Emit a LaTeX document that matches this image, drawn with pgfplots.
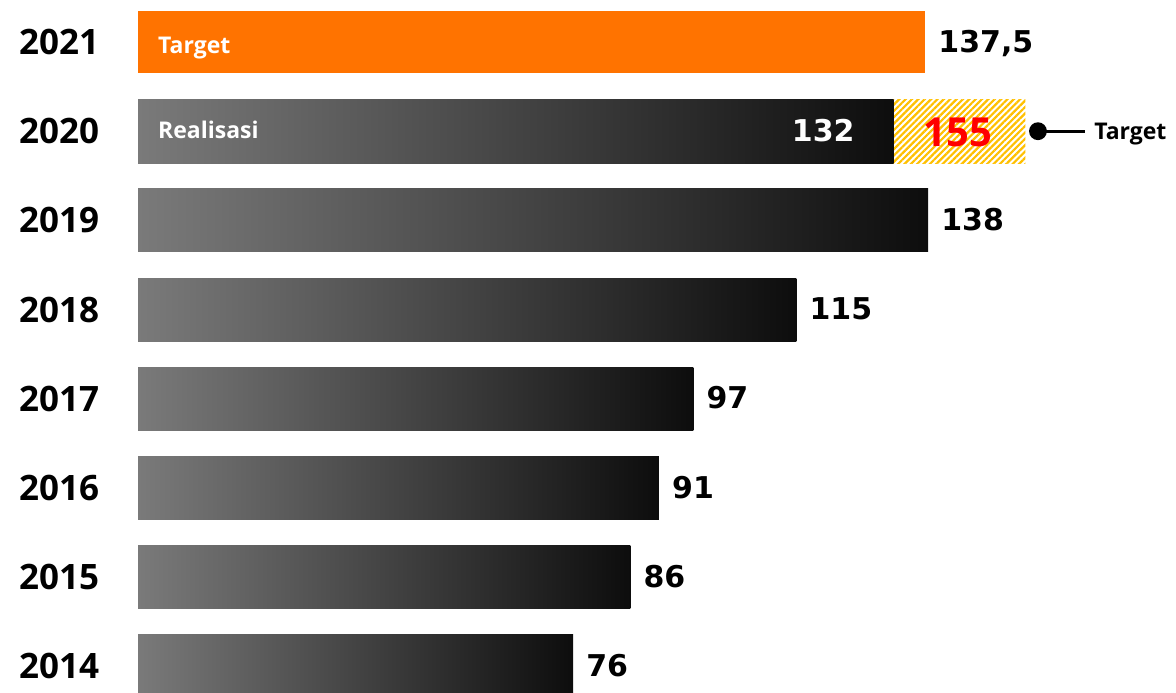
\documentclass[border=0pt]{standalone}
\usepackage{fontspec}
\setmainfont{Open Sans}
\newfontfamily\valfont{DejaVu Sans}
\usepackage{pgfplots}
\pgfplotsset{compat=1.18}
\usetikzlibrary{patterns.meta}
\definecolor{orangeT}{RGB}{255,115,0}
\definecolor{gradL}{RGB}{122,122,122}
\definecolor{gradR}{RGB}{13,13,13}
\definecolor{hatchY}{RGB}{255,192,0}
\definecolor{redT}{RGB}{255,0,0}
\pgfplotsset{
  gbar/.style={xbar, bar shift=0pt, bar width=63bp, draw=none, left color=gradL, right color=gradR,
    nodes near coords, point meta=explicit symbolic},
}
\begin{document}
\begin{tikzpicture}
\begin{axis}[
  x=5.725bp, y=89.2bp,
  xmin=-24.105, xmax=181.31,
  ymin=2013.702, ymax=2021.471,
  axis line style={draw=none},
  xtick=\empty,
  ytick={2014,2015,2016,2017,2018,2019,2020,2021},
  yticklabels={2014,2015,2016,2017,2018,2019,2020,2021},
  major tick length=0pt,
  yticklabel style={anchor=west, inner sep=0pt, xshift=19bp,
    font=\fontsize{35bp}{40bp}\selectfont\bfseries},
  clip=true,
  nodes near coords style={anchor=base west, inner sep=0pt, xshift=13bp, yshift=-10bp,
    font=\valfont\fontsize{30bp}{36bp}\selectfont\bfseries, text=black},
]
% 2014-2019 bars, one plot each so each bar carries its own gradient
\addplot[gbar] table[meta=lab] {
x y lab
76 2014 76
};
\addplot[gbar] table[meta=lab] {
x y lab
86 2015 86
};
\addplot[gbar] table[meta=lab] {
x y lab
91 2016 91
};
\addplot[gbar] table[meta=lab] {
x y lab
97 2017 97
};
\addplot[gbar] table[meta=lab] {
x y lab
115 2018 115
};
\addplot[gbar] table[meta=lab] {
x y lab
138 2019 138
};
% 2020 target (hatched)
\addplot[xbar, bar shift=0pt, bar width=64bp, draw=none, fill=white,
  postaction={pattern={Lines[angle=45,distance=4.5bp,line width=2.2bp]}, pattern color=hatchY}]
  coordinates {(155,2020)};
% 2020 realisation
\addplot[gbar, bar width=64bp,
  nodes near coords style={anchor=base east, xshift=-52bp, text=white}]
  table[meta=lab] {
x y lab
132 2020 132
};
% 2021 target
\addplot[xbar, bar shift=0pt, bar width=62bp, draw=none, fill=orangeT,
  nodes near coords, point meta=explicit symbolic] table[meta=lab] {
x y lab
137.5 2021 {137,5}
};
% target marker
\addplot[black, line width=2.8bp, mark=*, mark size=7.5bp, mark indices={1}]
  coordinates {(157.2,2020) (165.4,2020)};
% annotations
\node[anchor=base west, inner sep=0pt, text=white, font=\fontsize{23bp}{28bp}\selectfont\bfseries]
  at (axis cs:0,2021) [xshift=20bp, yshift=-11bp] {Target};
\node[anchor=base west, inner sep=0pt, text=white, font=\fontsize{23bp}{28bp}\selectfont\bfseries]
  at (axis cs:0,2020) [xshift=20bp, yshift=-7.5bp] {Realisasi};
\node[anchor=center, inner sep=0pt, text=redT, font=\fontsize{40bp}{46bp}\selectfont\bfseries]
  at (axis cs:143.2,2020) [yshift=-1.5bp] {155};
\node[anchor=base west, inner sep=0pt, text=black, font=\fontsize{23bp}{28bp}\selectfont\bfseries]
  at (axis cs:167.0,2020) [yshift=-8bp] {Target};
\end{axis}
\pgfresetboundingbox
\path (current axis.south west) rectangle (current axis.north east);
\end{tikzpicture}
\end{document}
